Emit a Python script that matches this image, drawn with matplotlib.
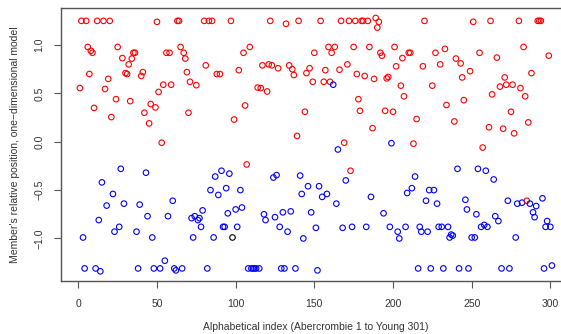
import matplotlib
matplotlib.use("Agg")
import matplotlib.pyplot as plt
import numpy as np

# relative position of each member, in alphabetical order (1..301)
position = [
    0.555, 1.25, -0.99, -1.31, 1.25, 0.98, 0.70, 0.94, 0.92, 0.35,
    -1.31, 1.25, -0.81, -1.34, -0.42, 1.25, 0.545, -0.66, 0.65, 1.25,
    0.255, -0.54, -0.93, 0.44, 0.98, -0.88, -0.28, 0.865, -0.64, 0.71,
    0.70, 0.80, 0.42, 0.86, 0.92, 0.92, -0.93, -1.31, -0.65, 0.68,
    0.72, 0.30, -0.32, -0.77, 0.19, 0.39, -0.99, -1.31, 0.355, 1.24,
    0.515, -1.31, -0.01, 0.59, -1.23, 0.92, -0.77, 0.92, 0.59, -0.61,
    -1.31, -1.33, 1.25, 1.25, 0.98, -1.31, 0.92, 0.86, 0.72, 0.30,
    0.62, -0.79, -0.99, -0.77, 0.585, -0.81, -0.79, -0.88, -0.71, 1.25,
    0.79, -1.31, 1.25, -0.50, 1.25, -0.99, -0.36, 0.70, -0.55, 0.70,
    -0.30, -0.88, -0.88, -0.48, -0.74, -0.33, 1.25, -0.99, 0.23, -0.70,
    -0.88, 0.74, -0.50, -0.68, 0.92, 0.375, -0.235, -1.31, 0.98, -1.31,
    -1.31, -1.31, -1.31, 0.56, -1.31, 0.555, 0.79, -0.75, -0.81, 0.52,
    0.80, 1.25, 0.79, -0.37, -0.78, -0.345, 0.76, -0.88, -1.31, -0.73,
    -1.31, 1.22, -0.93, 0.79, -0.72, 0.75, 0.69, -1.31, 0.06, 1.25,
    -0.35, -0.54, -1.0, 0.31, 0.71, -0.46, 0.76, -0.73, 0.62, 0.92,
    -0.89, -1.33, -0.46, 1.25, -0.57, 0.62, 0.74, -0.54, 0.98, 0.62,
    0.92, 0.59, 0.98, -0.64, -0.08, 0.745, 1.25, -0.89, -0.01, -0.40,
    0.80, 1.25, -0.30, -0.88, 0.98, 1.25, 0.70, 0.44, 0.32, 1.25,
    1.25, 0.68, -0.88, 1.25, 0.98, -0.57, 0.14, 0.65, 1.28, 1.18,
    1.24, 0.92, 0.89, -0.74, 0.32, 0.655, 0.67, -0.88, -0.015, 0.31,
    0.98, 0.78, -0.93, -1.0, 0.58, 0.865, 0.47, -0.88, -0.53, 0.92,
    0.92, -0.48, -0.02, -0.36, 0.235, -1.31, -0.88, -0.93, 0.78, 1.25,
    -0.61, -0.93, -0.50, -1.31, 0.58, -0.50, 0.92, -0.64, -0.88, 0.80,
    -0.88, -1.31, 0.96, 0.38, -0.88, -0.99, -0.96, -0.97, 0.21, 0.86,
    -0.28, -1.31, 0.81, 0.665, 0.43, -0.60, -0.70, -1.31, 0.73, -0.99,
    1.24, -0.99, -0.75, -0.28, 0.92, -0.88, -0.06, -0.86, -0.30, -0.88,
    0.15, 1.25, 0.49, -0.39, -0.77, 0.87, -0.82, 0.57, -1.31, 0.135,
    0.665, 0.59, -0.61, -1.31, 0.31, 0.59, 0.087, -0.99, -0.64, 1.25,
    0.555, -0.63, 0.98, 0.47, -0.61, 0.20, -0.64, 0.71, -0.73, -0.78,
    -0.665, 1.25, 1.25, 1.25, -0.585, -1.31, -0.88, -0.82, 0.89, -0.88,
    -1.28,
]

# party of each member: R = Republican, D = Democrat, I = other
party = (
    "RRDDRRRRRR" "DRDDDRRDRR" "RDDRRDDRDR" "RRRRRRDDDR" "RRDDRRDDRR"
    "RDRRDRDRRD" "DDRRRDRRRR" "RDDDRDDDDR" "RDRDRDDRDR" "DDDDDDRIRD"
    "DRDDRRRDRD" "DDDRDRRDDR" "RRRDDDRDDD" "DRDRDRRDRR" "DDDRRDRDRR"
    "DDDRDRRDRR" "RDRDDRRDRD" "RRRDRRRRRR" "RRDRRDRRRR" "RRRDRRRDDR"
    "RRDDRRRDDR" "RDRDRDDDRR" "DDDDRDRDDR" "DDRRDDDDRR" "DDRRRDDDRD"
    "RDDDRDRDDD" "RRRDDRDRDR" "RRDDRRRDDR" "RDRRRRDRDD" "DRRRDDDDRDD"
)

party_colors = {"R": "#ff0000", "D": "#0000ff", "I": "#000000"}

xticks = [0, 50, 100, 150, 200, 250, 300]
yticks = [-1.0, -0.5, 0.0, 0.5, 1.0]
ytick_labels = ["\u22121.0", "\u22120.5", "0.0", "0.5", "1.0"]

plt.rcParams["font.family"] = ["Liberation Sans", "DejaVu Sans"]

index = np.arange(1, len(position) + 1)
pos = np.array(position)
colors = [party_colors[p] for p in party]

fig = plt.figure(figsize=(5.61, 3.34), dpi=100)
ax = fig.add_axes([61 / 561, 1 - 281 / 334, 0.9087, 273 / 334])

ax.scatter(index, pos, s=16, facecolors="none", edgecolors=colors,
           linewidths=0.8)

ax.set_xlim(-11, 313)
ax.set_ylim(-1.44, 1.383)

ax.set_xticks(xticks)
ax.set_yticks(yticks)
ax.set_yticklabels(ytick_labels, rotation=90, va="center")

for s in ax.spines.values():
    s.set_color("#555555")
    s.set_linewidth(1.0)

ax.tick_params(axis="both", direction="out", length=5, width=0.8,
               color="#555555", labelsize=7.5, labelcolor="#333333")
ax.tick_params(axis="x", pad=8)
ax.tick_params(axis="y", pad=7)

ax.set_xlabel("Alphabetical index (Abercrombie 1 to Young 301)",
              fontsize=7.5, color="#333333", labelpad=9)
ax.set_ylabel("Member's relative position, one\u2212dimensional model",
              fontsize=7.5, color="#333333", labelpad=10)

fig.savefig("out.png", dpi=100)
